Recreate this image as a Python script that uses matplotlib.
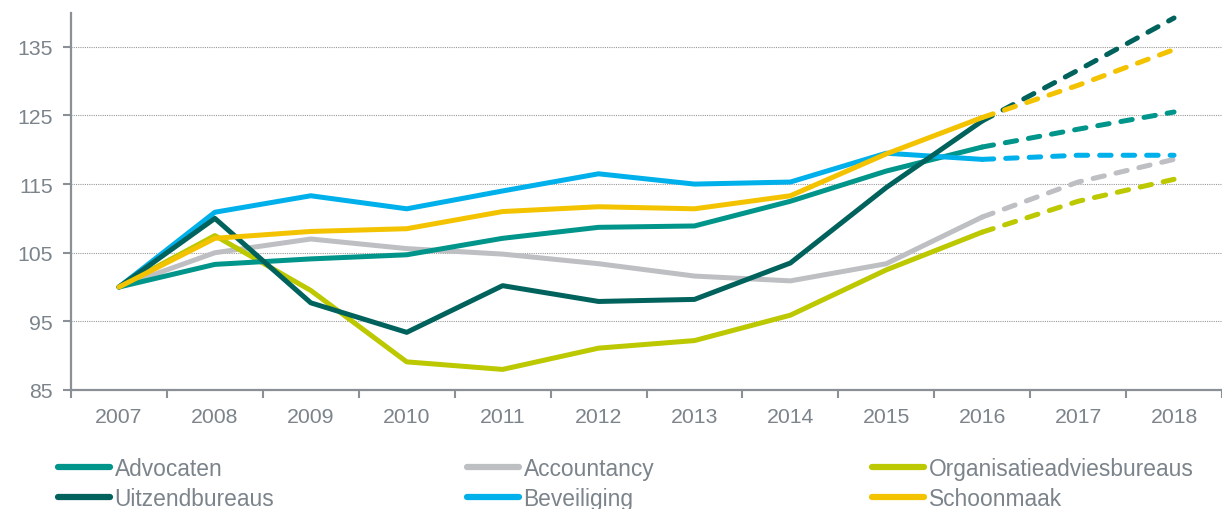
import matplotlib
matplotlib.use("Agg")
import matplotlib.pyplot as plt
import numpy as np

years = ["2007", "2008", "2009", "2010", "2011", "2012", "2013", "2014", "2015", "2016", "2017", "2018"]
advocaten = [100, 103.3, 104.1, 104.7, 107.1, 108.7, 108.9, 112.5, 116.9, 120.4, 123.0, 125.5]
accountancy = [100, 105.0, 107.0, 105.6, 104.8, 103.4, 101.6, 100.9, 103.4, 110.2, 115.3, 118.6]
organisatie = [100, 107.5, 99.5, 89.1, 88.0, 91.1, 92.2, 95.9, 102.5, 108.0, 112.5, 115.7]
uitzend = [100, 110.0, 97.7, 93.4, 100.2, 97.9, 98.2, 103.5, 114.5, 124.2, 131.6, 139.2]
beveiliging = [100, 110.9, 113.3, 111.4, 114.0, 116.5, 115.0, 115.3, 119.5, 118.6, 119.2, 119.2]
schoonmaak = [100, 107.1, 108.1, 108.5, 111.0, 111.7, 111.4, 113.3, 119.4, 124.7, 129.4, 134.6]
names = ["Advocaten", "Accountancy", "Organisatieadviesbureaus", "Uitzendbureaus", "Beveiliging", "Schoonmaak"]
colors = ["#00958A", "#BDBFC3", "#BCC800", "#00625C", "#00B0EB", "#F4C300"]
yticks = [85, 95, 105, 115, 125, 135]
forecast_start = "2016"

series = [advocaten, accountancy, organisatie, uitzend, beveiliging, schoonmaak]
txt = "#7b838b"
plt.rcParams['font.family'] = ['Liberation Sans', 'DejaVu Sans']

fig = plt.figure(figsize=(12.22, 5.10), dpi=100)
ax = fig.add_axes([71/1222, 1-391/510, 1-71/1222, (391-13.5)/510])

x = np.arange(len(years))
k = years.index(forecast_start)
order = [1, 2, 0, 4, 3, 5]
for i in order:
    vals = np.array(series[i])
    ax.plot(x[:k+1], vals[:k+1], color=colors[i], lw=3.6, solid_capstyle='round', solid_joinstyle='round', zorder=3)
    ax.plot(x[k:], vals[k:], color=colors[i], lw=3.6, dashes=(2.3, 2.4), dash_capstyle='round', zorder=3)

ax.set_ylim(85, 140)
ax.set_xlim(-0.5, (1222-71)/96.96 - 0.5)
ax.set_yticks(yticks)
ax.set_yticklabels([str(v) for v in yticks])
ax.yaxis.grid(True, color="#9a9a9a", linestyle=(0, (1, 1)), lw=0.8)
ax.set_axisbelow(True)

ax.set_xticks(np.arange(-0.5, len(years), 1.0))
ax.set_xticklabels([])
ax.set_xticks(x, minor=True)
ax.set_xticklabels(years, minor=True)
ax.tick_params(axis='x', which='major', length=6, width=1.5, color="#8a9096")
ax.tick_params(axis='x', which='minor', length=0, pad=12, labelsize=15.3, labelcolor=txt)
ax.tick_params(axis='y', length=6, width=1.5, color="#8a9096", pad=7, labelsize=15.3, labelcolor=txt)

for s in ['top', 'right']:
    ax.spines[s].set_visible(False)
for s in ['left', 'bottom']:
    ax.spines[s].set_color("#8a9096")
    ax.spines[s].set_linewidth(1.6)

from matplotlib.lines import Line2D
handles = [Line2D([], [], color=c, lw=4.5, solid_capstyle='round') for c in colors]
cols = [(0, 3), (1, 4), (2, 5)]
xs = [58, 467, 872]
for (a, b), xp in zip(cols, xs):
    fig.legend([handles[a], handles[b]], [names[a], names[b]], loc='upper left',
               bbox_to_anchor=(xp/1222, 1-458/510), frameon=False, fontsize=16.4,
               handlelength=2.3, handletextpad=0.18, borderpad=0, borderaxespad=0,
               labelspacing=0.3, labelcolor=txt)

fig.savefig("out.png", dpi=100)
